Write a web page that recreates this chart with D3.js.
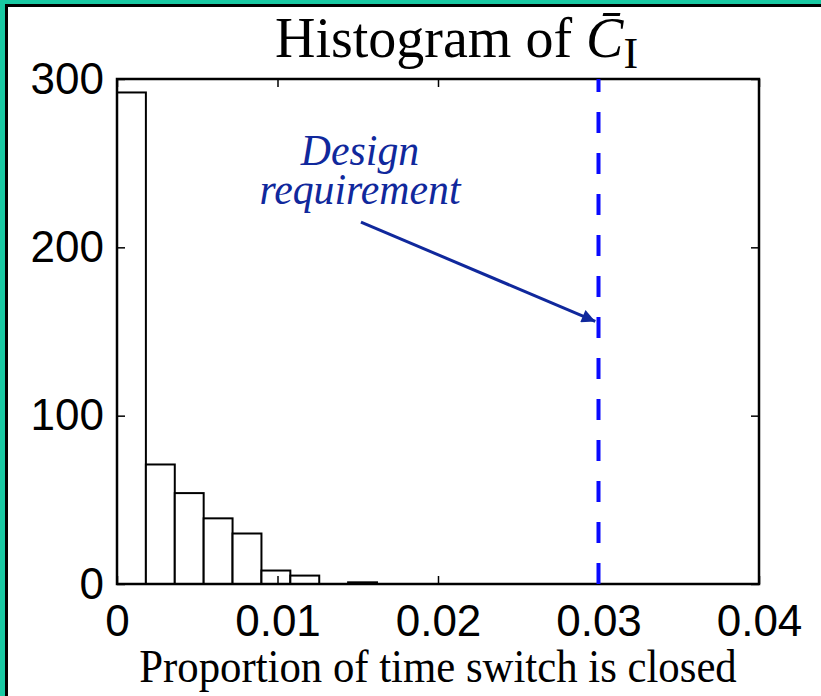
<!DOCTYPE html>
<html>
<head>
<meta charset="utf-8">
<script src="https://cdn.jsdelivr.net/npm/d3@7"></script>
<style>
  body { margin: 0; background: #fff; }
  .tick text { font-family: "Liberation Sans", Arial, sans-serif; font-size: 44px; fill: #000; }
  .serif { font-family: "Liberation Serif", "Times New Roman", serif; }
</style>
</head>
<body>
<svg id="chart" width="821" height="696"></svg>
<script>
// histogram bins (proportion of time) and counts
const binEdges = [0, 0.0018, 0.0036, 0.0054, 0.0072, 0.009, 0.0108, 0.0126, 0.0144, 0.0162];
const counts = [292, 71, 54, 39, 30, 8, 5, 0, 1];

const xTicks = [0, 0.01, 0.02, 0.03, 0.04];
const xTickLabels = ["0", "0.01", "0.02", "0.03", "0.04"];
const yTicks = [0, 100, 200, 300];
const yTickLabels = ["0", "100", "200", "300"];

const requirement = 0.03;
const arrowFrom = [0.0152, 215];
const arrowTo = [0.0298, 156];

const width = 821, height = 696;
const svg = d3.select("#chart");

const x = d3.scaleLinear().domain([0, 0.04]).range([117, 759]);
const y = d3.scaleLinear().domain([0, 300]).range([584, 79]);

// frame
svg.append("rect").attr("x", 0).attr("y", 0).attr("width", width).attr("height", 4).attr("fill", "#19c9a3");
svg.append("rect").attr("x", 0).attr("y", 0).attr("width", 5).attr("height", height).attr("fill", "#19c9a3");
svg.append("line").attr("x1", 6.5).attr("y1", 5.5).attr("x2", 6.5).attr("y2", height)
    .attr("stroke", "#000").attr("stroke-width", 3);
svg.append("line").attr("x1", 5).attr("y1", 5.5).attr("x2", width).attr("y2", 5.5)
    .attr("stroke", "#000").attr("stroke-width", 3);

// bars
const bars = counts.map((c, i) => ({ x0: binEdges[i], x1: binEdges[i + 1], c }));
svg.append("g").selectAll("rect")
    .data(bars.filter(d => d.c > 0))
    .join("rect")
    .attr("x", d => x(d.x0))
    .attr("y", d => y(d.c))
    .attr("width", d => x(d.x1) - x(d.x0))
    .attr("height", d => y(0) - y(d.c))
    .attr("fill", "#fff")
    .attr("stroke", "#000")
    .attr("stroke-width", 2);

// axes, ticks pointing inward
const gx = svg.append("g").attr("transform", `translate(0,${y(0)})`)
    .call(d3.axisBottom(x).tickValues(xTicks).tickSize(-8).tickPadding(21)
        .tickFormat((d, i) => xTickLabels[i]));
const gy = svg.append("g").attr("transform", `translate(${x(0)},0)`)
    .call(d3.axisLeft(y).tickValues(yTicks).tickSize(-8).tickPadding(13)
        .tickFormat((d, i) => yTickLabels[i]));
const gt = svg.append("g").attr("transform", `translate(0,${y(300)})`)
    .call(d3.axisTop(x).tickValues(xTicks).tickSize(-8).tickFormat(""));
const gr = svg.append("g").attr("transform", `translate(${x(0.04)},0)`)
    .call(d3.axisRight(y).tickValues(yTicks).tickSize(-8).tickFormat(""));
[gx, gy, gt, gr].forEach(g => {
    g.select(".domain").remove();
    g.selectAll(".tick line").attr("stroke", "#000").attr("stroke-width", 1.5);
});

svg.append("rect")
    .attr("x", x(0)).attr("y", y(300))
    .attr("width", x(0.04) - x(0)).attr("height", y(0) - y(300))
    .attr("fill", "none").attr("stroke", "#000").attr("stroke-width", 2.5);

// design requirement line
svg.append("line")
    .attr("x1", x(requirement)).attr("y1", y(0))
    .attr("x2", x(requirement)).attr("y2", y(300))
    .attr("stroke", "#0a0aff").attr("stroke-width", 4)
    .attr("stroke-dasharray", "21,20");

// arrow
svg.append("defs").append("marker")
    .attr("id", "head").attr("viewBox", "0 0 10 10")
    .attr("refX", 10).attr("refY", 5)
    .attr("markerWidth", 5.5).attr("markerHeight", 4.5)
    .attr("markerUnits", "strokeWidth")
    .attr("orient", "auto")
    .append("path").attr("d", "M0,0 L10,5 L0,10 Z").attr("fill", "#10289c");

svg.append("line")
    .attr("x1", x(arrowFrom[0])).attr("y1", y(arrowFrom[1]))
    .attr("x2", x(arrowTo[0])).attr("y2", y(arrowTo[1]))
    .attr("stroke", "#10289c").attr("stroke-width", 3)
    .attr("marker-end", "url(#head)");

svg.append("text").attr("class", "serif")
    .attr("transform", "translate(360,165) scale(0.95,1)")
    .attr("text-anchor", "middle")
    .attr("font-style", "italic").attr("font-size", 44)
    .attr("fill", "#10289c")
    .text("Design");
svg.append("text").attr("class", "serif")
    .attr("transform", "translate(360,204) scale(0.95,1)")
    .attr("text-anchor", "middle")
    .attr("font-style", "italic").attr("font-size", 44)
    .attr("fill", "#10289c")
    .text("requirement");

// title
const title = svg.append("text").attr("class", "serif")
    .attr("transform", "translate(275,57)")
    .attr("font-size", 56);
title.append("tspan").text("Histogram of ");
title.append("tspan").attr("font-style", "italic").text("C\u0304");
title.append("tspan").attr("font-size", 44).attr("dy", 11).text("I");

// x label
svg.append("text").attr("class", "serif")
    .attr("transform", "translate(438,682) scale(0.93,1)")
    .attr("text-anchor", "middle").attr("font-size", 46)
    .text("Proportion of time switch is closed");
</script>
</body>
</html>
